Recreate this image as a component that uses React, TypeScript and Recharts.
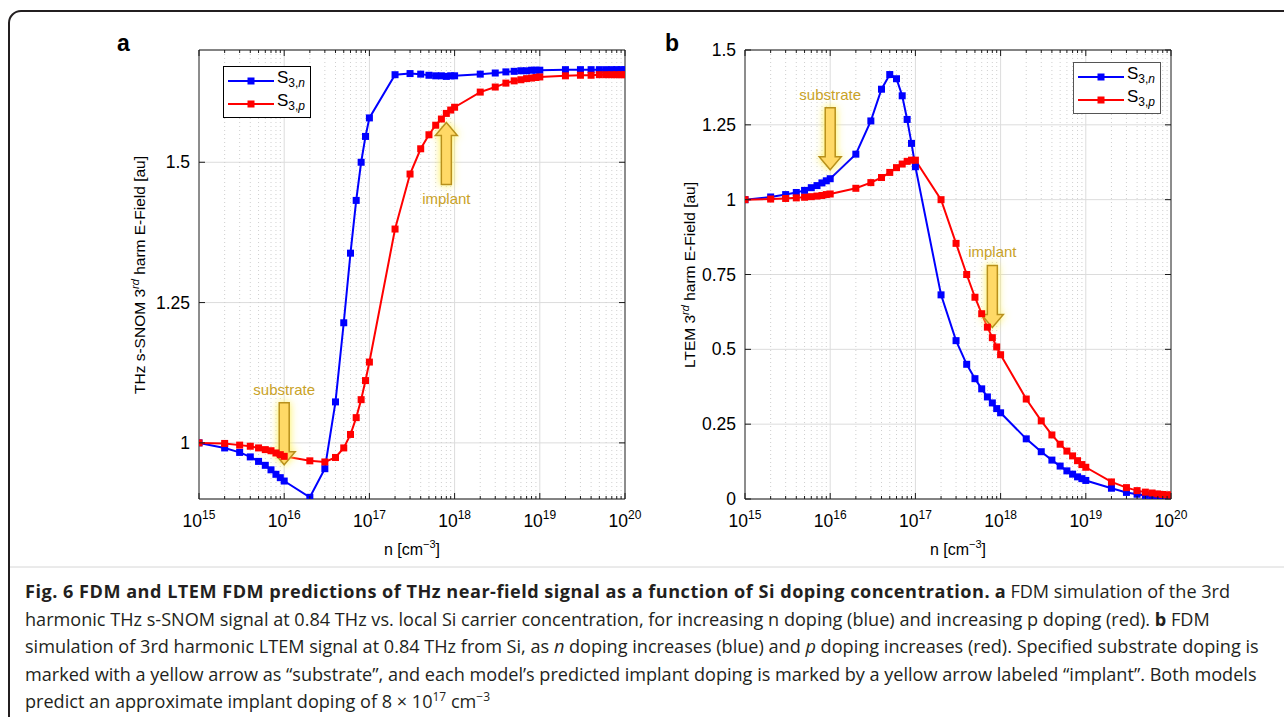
import React from "react";
import {
  LineChart,
  Line,
  XAxis,
  YAxis,
  CartesianGrid,
  ReferenceLine,
  ReferenceDot,
  Legend,
} from "recharts";

// doping concentration n [cm^-3]
const doping = [
  1e15, 2e15, 3e15, 4e15, 5e15, 6e15, 7e15, 8e15, 9e15,
  1e16, 2e16, 3e16, 4e16, 5e16, 6e16, 7e16, 8e16, 9e16,
  1e17, 2e17, 3e17, 4e17, 5e17, 6e17, 7e17, 8e17, 9e17,
  1e18, 2e18, 3e18, 4e18, 5e18, 6e18, 7e18, 8e18, 9e18,
  1e19, 2e19, 3e19, 4e19, 5e19, 6e19, 7e19, 8e19, 9e19,
  1e20,
];

// panel a: THz s-SNOM 3rd harm E-field
const snomN = [
  1.0, 0.991, 0.983, 0.975, 0.967, 0.96, 0.952, 0.944, 0.938,
  0.932, 0.903, 0.954, 1.073, 1.214, 1.338, 1.432, 1.5, 1.546,
  1.579, 1.656, 1.658, 1.657, 1.655, 1.654, 1.654, 1.653, 1.654,
  1.654, 1.657, 1.659, 1.661, 1.662, 1.663, 1.663, 1.664, 1.664,
  1.664, 1.665, 1.665, 1.665, 1.665, 1.665, 1.665, 1.665, 1.665,
  1.665,
];
const snomP = [
  1.0, 0.999, 0.996, 0.994, 0.991, 0.988, 0.986, 0.982, 0.979,
  0.976, 0.968, 0.966, 0.974, 0.991, 1.015, 1.045, 1.077, 1.111,
  1.144, 1.381, 1.479, 1.524, 1.549, 1.566, 1.577, 1.587, 1.593,
  1.598, 1.625, 1.634, 1.641, 1.645, 1.647, 1.649, 1.65, 1.651,
  1.652, 1.654, 1.655, 1.655, 1.656, 1.656, 1.656, 1.656, 1.656,
  1.656,
];

// panel b: LTEM 3rd harm E-field
const ltemN = [
  1.0, 1.009, 1.017, 1.024, 1.031, 1.04, 1.047, 1.056, 1.063,
  1.07, 1.152, 1.263, 1.369, 1.418, 1.404, 1.347, 1.268, 1.188,
  1.11, 0.682, 0.529, 0.45, 0.402, 0.368, 0.341, 0.321, 0.302,
  0.288, 0.201, 0.158, 0.13, 0.11, 0.094, 0.083, 0.074, 0.068,
  0.062, 0.036, 0.022, 0.016, 0.012, 0.009, 0.007, 0.005, 0.004,
  0.003,
];
const ltemP = [
  1.0, 1.002, 1.004, 1.006, 1.008, 1.01, 1.012, 1.014, 1.017,
  1.019, 1.038, 1.057, 1.074, 1.091, 1.107, 1.119, 1.128, 1.132,
  1.132, 1.0, 0.854, 0.75, 0.674, 0.619, 0.574, 0.539, 0.508,
  0.482, 0.334, 0.261, 0.214, 0.183, 0.16, 0.144, 0.128, 0.115,
  0.106, 0.057, 0.038, 0.028, 0.023, 0.02, 0.017, 0.015, 0.014,
  0.013,
];

const decades = [1e15, 1e16, 1e17, 1e18, 1e19, 1e20];
const decadeExp = ["15", "16", "17", "18", "19", "20"];
const snomTicks = [1, 1.25, 1.5];
const ltemTicks = [0, 0.25, 0.5, 0.75, 1, 1.25, 1.5];

const substrateDoping = 1e16;
const implantDoping = 8e17;

const series = [
  { key: "sn", sub: "n", color: "#0000ff" },
  { key: "sp", sub: "p", color: "#ff0000" },
];

const minorTicks = doping.filter((v) => !decades.includes(v));
const innerGrid = decades.slice(1, -1);

const FONT = "'Liberation Sans', Arial, Helvetica, sans-serif";
const AXIS = "#1a1a1a";
const GOLD = "#c9a227";

const BottomTick = (props: any) => {
  const { x, y, payload } = props;
  const i = decades.indexOf(payload.value);
  return (
    <g>
      <line x1={x} x2={x} y1={y} y2={y - (i >= 0 ? 6 : 3)} stroke={AXIS} />
      {i >= 0 && (
        <text x={x} y={y + 28} textAnchor="middle" fontSize={17.5} fill="#000" fontFamily={FONT}>
          10
          <tspan dy={-8} fontSize={12}>
            {decadeExp[i]}
          </tspan>
        </text>
      )}
    </g>
  );
};

const TopTick = (props: any) => {
  const { x, y, payload } = props;
  const major = decades.includes(payload.value);
  return <line x1={x} x2={x} y1={y} y2={y + (major ? 6 : 3)} stroke={AXIS} />;
};

const LeftTick = (props: any) => {
  const { x, y, payload } = props;
  return (
    <g>
      <line x1={x} x2={x + 6} y1={y} y2={y} stroke={AXIS} />
      <text x={x - 9} y={y} dy={6} textAnchor="end" fontSize={17.5} fill="#000" fontFamily={FONT}>
        {String(payload.value)}
      </text>
    </g>
  );
};

const RightTick = (props: any) => {
  const { x, y } = props;
  return <line x1={x} x2={x - 6} y1={y} y2={y} stroke={AXIS} />;
};

const makeArrow = (dir: "up" | "down", label: string, id: string) => (props: any) => {
  const { cx, cy } = props;
  const L = 62;
  const hw = 11;
  const hh = 13;
  const sw = 5;
  const s = dir === "down" ? -1 : 1;
  const pts = [
    [cx, cy],
    [cx + hw, cy + s * hh],
    [cx + sw, cy + s * hh],
    [cx + sw, cy + s * L],
    [cx - sw, cy + s * L],
    [cx - sw, cy + s * hh],
    [cx - hw, cy + s * hh],
  ]
    .map((p) => p.join(","))
    .join(" ");
  const ty = dir === "down" ? cy - L - 8 : cy + L + 20;
  return (
    <g>
      <defs>
        <filter id={id} x="-100%" y="-50%" width="300%" height="200%">
          <feGaussianBlur in="SourceAlpha" stdDeviation="4" result="blur" />
          <feFlood floodColor="#fff04a" floodOpacity="0.95" />
          <feComposite in2="blur" operator="in" result="glow" />
          <feMerge>
            <feMergeNode in="glow" />
            <feMergeNode in="SourceGraphic" />
          </feMerge>
        </filter>
      </defs>
      <polygon points={pts} fill="#ffd966" stroke="#b8901c" strokeWidth={1.5} filter={`url(#${id})`} />
      <text x={cx} y={ty} textAnchor="middle" fontSize={15} fill={GOLD} fontFamily={FONT}>
        {label}
      </text>
    </g>
  );
};

const LegendBox = ({ payload, border }: any) => (
  <div
    style={{
      border: `1.5px solid ${border}`,
      background: "#fff",
      padding: "2px 5px 2px 4px",
      fontFamily: FONT,
      color: "#000",
    }}
  >
    {(payload || []).map((e: any) => {
      const s = series.find((q) => q.key === e.dataKey);
      const color = s ? s.color : e.color;
      return (
        <div key={e.dataKey} style={{ display: "flex", alignItems: "center", height: 23 }}>
          <svg width={46} height={10}>
            <line x1={0} x2={46} y1={5} y2={5} stroke={color} strokeWidth={2} />
            <rect x={19.5} y={1.5} width={7} height={7} fill={color} />
          </svg>
          <span style={{ fontSize: 17, marginLeft: 3, lineHeight: "17px" }}>
            S
            <sub style={{ fontSize: 12 }}>
              3,<i>{s ? s.sub : ""}</i>
            </sub>
          </span>
        </div>
      );
    })}
  </div>
);

const squareDot = (color: string) => (props: any) => {
  const { cx, cy, index } = props;
  return <rect key={`d${index}`} x={cx - 3.5} y={cy - 3.5} width={7} height={7} fill={color} />;
};

type PanelProps = {
  id: string;
  left: number;
  width: number;
  margin: { top: number; right: number; bottom: number; left: number };
  n: number[];
  p: number[];
  yDomain: [number, number];
  yTicks: number[];
  legendPos: { left: number; top: number };
  legendBorder: string;
  substrateTip: number;
  implantTip: number;
  implantDir: "up" | "down";
};

const Panel = (pp: PanelProps) => {
  const data = doping.map((n, i) => ({ n, sn: pp.n[i], sp: pp.p[i] }));
  return (
    <div style={{ position: "absolute", left: pp.left, top: 0 }}>
      <LineChart width={pp.width} height={570} data={data} margin={pp.margin}>
        <CartesianGrid vertical={false} stroke="#dcdcdc" />
        {minorTicks.map((v) => (
          <ReferenceLine key={`m${v}`} x={v} stroke="#cfcfcf" strokeDasharray="1 3" />
        ))}
        {innerGrid.map((v) => (
          <ReferenceLine key={`g${v}`} x={v} stroke="#dcdcdc" />
        ))}
        <XAxis
          dataKey="n"
          type="number"
          scale="log"
          domain={[1e15, 1e20]}
          allowDataOverflow
          ticks={[...decades, ...minorTicks]}
          interval={0}
          height={1}
          tickSize={0}
          tickMargin={0}
          tickLine={false}
          axisLine={{ stroke: AXIS }}
          tick={BottomTick}
        />
        <XAxis
          xAxisId="top"
          orientation="top"
          dataKey="n"
          type="number"
          scale="log"
          domain={[1e15, 1e20]}
          allowDataOverflow
          ticks={[...decades, ...minorTicks]}
          interval={0}
          height={1}
          tickSize={0}
          tickMargin={0}
          tickLine={false}
          axisLine={{ stroke: AXIS }}
          tick={TopTick}
        />
        <YAxis
          type="number"
          domain={pp.yDomain}
          allowDataOverflow
          ticks={pp.yTicks}
          interval={0}
          width={1}
          tickSize={0}
          tickMargin={0}
          tickLine={false}
          axisLine={{ stroke: AXIS }}
          tick={LeftTick}
        />
        <YAxis
          yAxisId="right"
          orientation="right"
          type="number"
          domain={pp.yDomain}
          allowDataOverflow
          ticks={pp.yTicks}
          interval={0}
          width={1}
          tickSize={0}
          tickMargin={0}
          tickLine={false}
          axisLine={{ stroke: AXIS }}
          tick={RightTick}
        />
        {series.map((s) => (
          <Line
            key={s.key}
            dataKey={s.key}
            name={s.key}
            stroke={s.color}
            strokeWidth={2}
            dot={squareDot(s.color)}
            activeDot={false}
            isAnimationActive={false}
          />
        ))}
        <ReferenceDot
          x={substrateDoping}
          y={pp.substrateTip}
          r={0}
          shape={makeArrow("down", "substrate", `${pp.id}-glow-s`)}
        />
        <ReferenceDot
          x={implantDoping}
          y={pp.implantTip}
          r={0}
          shape={makeArrow(pp.implantDir, "implant", `${pp.id}-glow-i`)}
        />
        <Legend
          layout="vertical"
          align="center"
          verticalAlign="middle"
          wrapperStyle={{ left: pp.legendPos.left, top: pp.legendPos.top, width: "auto", height: "auto" }}
          content={(props: any) => <LegendBox payload={props.payload} border={pp.legendBorder} />}
        />
      </LineChart>
    </div>
  );
};

const Overlay = () => (
  <svg
    width={1284}
    height={717}
    style={{ position: "absolute", left: 0, top: 0 }}
    fontFamily={FONT}
  >
    <rect x={9} y={11} width={1300} height={720} rx={12} fill="#fff" stroke="#231f20" strokeWidth={2} />
    <line x1={10} x2={1284} y1={567} y2={567} stroke="#d6d6d6" />
    <text x={117} y={51} fontSize={23} fontWeight="bold" fill="#000">
      a
    </text>
    <text x={665} y={51} fontSize={23} fontWeight="bold" fill="#000">
      b
    </text>
    <text
      transform="translate(145,275) rotate(-90)"
      textAnchor="middle"
      fontSize={15.5}
      fill="#000"
    >
      THz s-SNOM 3<tspan dy={-6} fontSize={11} fontStyle="italic">rd</tspan>
      <tspan dy={6}> harm E-Field [au]</tspan>
    </text>
    <text
      transform="translate(695,275) rotate(-90)"
      textAnchor="middle"
      fontSize={15.5}
      fill="#000"
    >
      LTEM 3<tspan dy={-6} fontSize={11} fontStyle="italic">rd</tspan>
      <tspan dy={6}> harm E-Field [au]</tspan>
    </text>
    <text x={412} y={555} textAnchor="middle" fontSize={16} fill="#000">
      n [cm<tspan dy={-7} fontSize={11}>−3</tspan>
      <tspan dy={7}>]</tspan>
    </text>
    <text x={958} y={555} textAnchor="middle" fontSize={16} fill="#000">
      n [cm<tspan dy={-7} fontSize={11}>−3</tspan>
      <tspan dy={7}>]</tspan>
    </text>
  </svg>
);

const lineStyle: React.CSSProperties = { whiteSpace: "nowrap", height: 27.5 };
const supStyle: React.CSSProperties = {
  fontSize: 12,
  lineHeight: 0,
  verticalAlign: "baseline",
  position: "relative",
  top: "-0.6em",
};

const Caption = () => (
  <div
    style={{
      position: "absolute",
      left: 25,
      top: 578,
      fontFamily: "'Open Sans', 'Noto Sans', sans-serif",
      fontSize: 18.1,
      lineHeight: "27.5px",
      color: "#231f20",
    }}
  >
    <div style={lineStyle}>
      <b style={{ letterSpacing: 0.5 }}>
        Fig. 6 FDM and LTEM FDM predictions of THz near-field signal as a function of Si doping
        concentration.
      </b>{" "}
      <b>a</b> FDM simulation of the 3rd
    </div>
    <div style={lineStyle}>
      harmonic THz s-SNOM signal at 0.84 THz vs. local Si carrier concentration, for increasing n
      doping (blue) and increasing p doping (red). <b>b</b> FDM
    </div>
    <div style={lineStyle}>
      simulation of 3rd harmonic LTEM signal at 0.84 THz from Si, as <i>n</i> doping increases
      (blue) and <i>p</i> doping increases (red). Specified substrate doping is
    </div>
    <div style={lineStyle}>
      marked with a yellow arrow as “substrate”, and each model’s predicted implant doping is marked
      by a yellow arrow labeled “implant”. Both models
    </div>
    <div style={lineStyle}>
      predict an approximate implant doping of 8 × 10
      <sup style={supStyle}>17</sup> cm<sup style={supStyle}>−3</sup>
    </div>
  </div>
);

export default function App() {
  return (
    <div style={{ position: "absolute", left: 0, top: 0, width: 1284, height: 717, overflow: "hidden", background: "#fff" }}>
      <Overlay />
      <Panel
        id="a"
        left={0}
        width={650}
        margin={{ top: 49, right: 24, bottom: 70, left: 198 }}
        n={snomN}
        p={snomP}
        yDomain={[0.9, 1.7]}
        yTicks={snomTicks}
        legendPos={{ left: 223, top: 66 }}
        legendBorder="#000"
        substrateTip={0.961}
        implantTip={1.571}
        implantDir="up"
      />
      <Panel
        id="b"
        left={640}
        width={644}
        margin={{ top: 49, right: 112, bottom: 70, left: 104 }}
        n={ltemN}
        p={ltemP}
        yDomain={[0, 1.5]}
        yTicks={ltemTicks}
        legendPos={{ left: 433, top: 62 }}
        legendBorder="#555"
        substrateTip={1.1}
        implantTip={0.573}
        implantDir="down"
      />
      <Caption />
    </div>
  );
}
